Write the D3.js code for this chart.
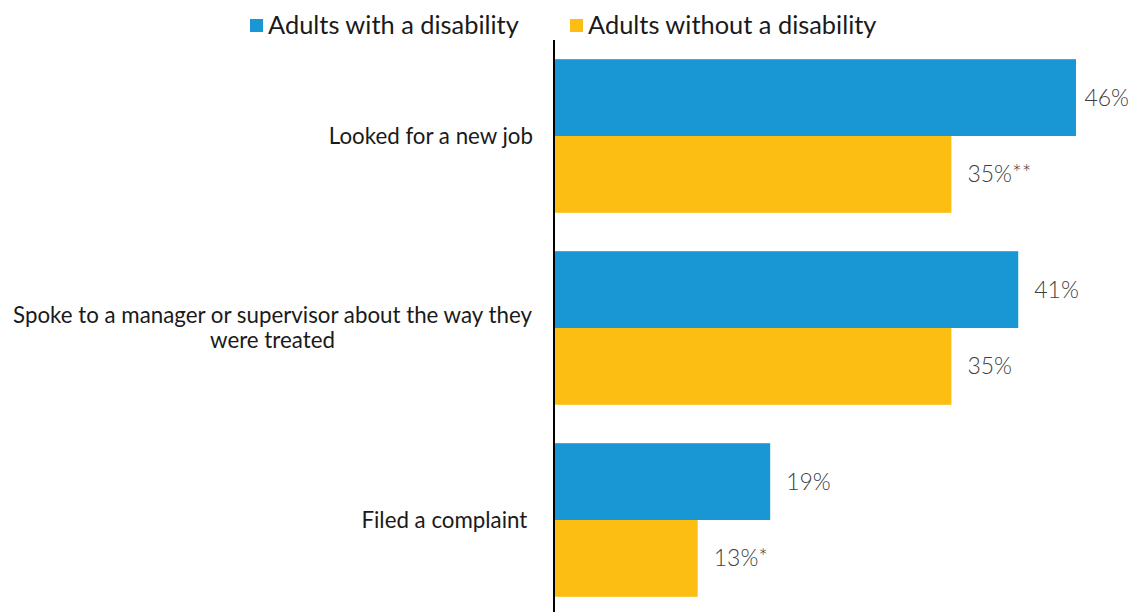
<!DOCTYPE html>
<html><head><meta charset="utf-8">
<script src="https://cdn.jsdelivr.net/npm/d3@7"></script>
<style>body{margin:0;background:#fff}svg{display:block;font-family:Lato,sans-serif}</style>
</head><body><svg id="c" width="1130" height="612"></svg>
<script>
const categories = [["Looked for a new job"], ["Spoke to a manager or supervisor about the way they", "were treated"], ["Filed a complaint "]];
const series = ["Adults with a disability", "Adults without a disability"];
const withDisability = [46, 40.9, 19];
const withoutDisability = [35, 35, 12.6];
const withLabels = ["46%", "41%", "19%"];
const withoutLabels = ["35%**", "35%", "13%*"];
const colors = ["#1996d4", "#fcbe13"];

const W = 1130;
const svg = d3.select("#c");
const x = d3.scaleLinear().domain([0, 46]).range([555, 1076]);
const y = d3.scaleBand().domain(d3.range(categories.length)).range([40, 616]).paddingInner(0.2).paddingOuter(0.1);
const y2 = d3.scaleBand().domain([0, 1]).range([0, y.bandwidth()]);

const data = categories.map((c, i) => ({c, i, vals: [withDisability[i], withoutDisability[i]], labs: [withLabels[i], withoutLabels[i]]}));

const g = svg.selectAll("g.grp").data(data).join("g").attr("class", "grp")
  .attr("transform", d => `translate(0,${y(d.i)})`);

g.selectAll("rect").data(d => d.vals.map((v, k) => ({v, k}))).join("rect")
  .attr("x", x(0)).attr("y", d => y2(d.k)).attr("width", d => x(d.v) - x(0))
  .attr("height", y2.bandwidth()).attr("fill", d => colors[d.k]);

g.selectAll("text.val").data(d => d.vals.map((v, k) => ({v, k, l: d.labs[k]}))).join("text")
  .attr("class", "val").attr("y", d => y2(d.k) + y2.bandwidth() / 2)
  .attr("dy", "0.35em").attr("font-size", 23).attr("font-weight", 300).attr("fill", "#404040").text(d => d.l)
  .attr("x", function(d) {
    const w = this.getComputedTextLength();
    return Math.min(x(d.v) + 16, W - 1 - w);
  });

g.each(function(d) {
  const n = d.c.length;
  const t = d3.select(this).append("text").attr("text-anchor", n > 1 ? "middle" : "end")
    .attr("font-size", 22.3).attr("fill", "#1a1a1a");
  d.c.forEach((ln, j) => {
    t.append("tspan").attr("x", n > 1 ? 272.5 : 533)
      .attr("y", y.bandwidth() / 2 + (j - (n - 1) / 2) * 25)
      .attr("dy", "0.35em").attr("xml:space", "preserve").text(ln);
  });
});

// axis line
svg.append("line").attr("x1", 554).attr("x2", 554).attr("y1", 40).attr("y2", 612)
  .attr("stroke", "#000").attr("stroke-width", 2);

// legend
const legX = [250, 570];
const lg = svg.selectAll("g.leg").data(series).join("g").attr("class", "leg")
  .attr("transform", (d, i) => `translate(${legX[i]},0)`);
lg.append("rect").attr("x", 0).attr("y", 19).attr("width", 13).attr("height", 13).attr("fill", (d, i) => colors[i]);
lg.append("text").attr("x", 18).attr("y", 25).attr("dy", "0.35em").attr("font-size", 25.4).attr("fill", "#1a1a1a").text(d => d);
</script></body></html>
